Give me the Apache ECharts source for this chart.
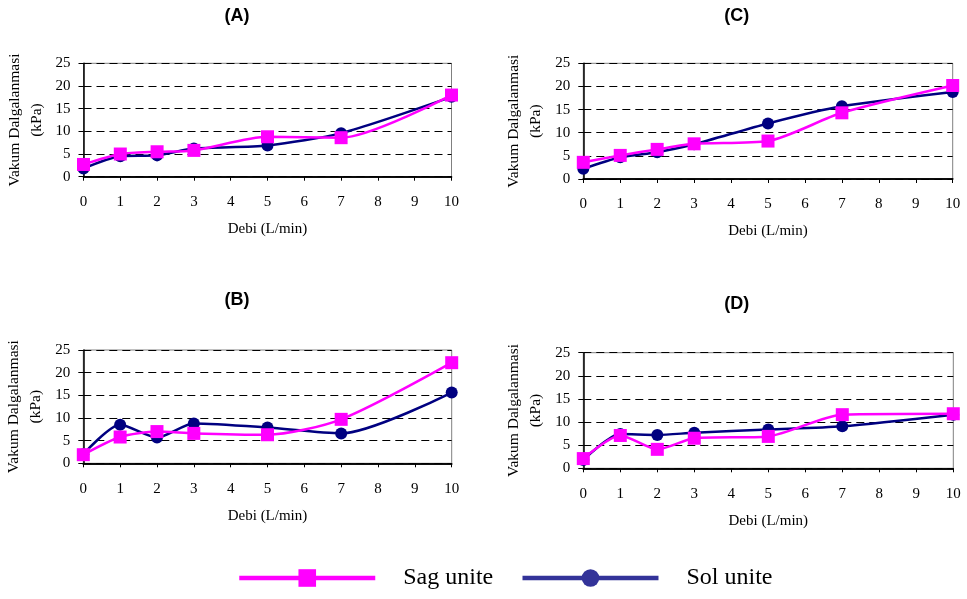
<!DOCTYPE html>
<html>
<head>
<meta charset="utf-8">
<script src="https://cdn.jsdelivr.net/npm/echarts@6/dist/echarts.min.js"></script>
<style>html,body{margin:0;padding:0;background:#fff;}#c{width:967px;height:599px;}</style>
</head>
<body>
<div id="c"></div>
<script>
// Data
const panelTitles = ['(A)', '(B)', '(C)', '(D)'];
const debi = [0, 1, 2, 3, 5, 7, 10];
const sagA = [2.7, 5.0, 5.5, 5.8, 8.8, 8.6, 18.0];
const solA = [1.8, 4.5, 4.7, 6.2, 6.9, 9.6, 17.6];
const sagB = [1.9, 5.8, 7.0, 6.6, 6.3, 9.7, 22.2];
const solB = [2.0, 8.5, 5.7, 8.8, 7.9, 6.6, 15.6];
const sagC = [3.6, 5.1, 6.4, 7.6, 8.2, 14.3, 20.2];
const solC = [2.2, 4.7, 5.8, 7.5, 12.0, 15.7, 18.8];
const sagD = [2.1, 7.1, 4.1, 6.5, 6.9, 11.6, 11.8];
const solD = [1.8, 7.4, 7.2, 7.7, 8.4, 9.1, 11.6];
const xTicks = [0, 10, 1];     // min, max, interval
const yTicks = [0, 25, 5];
const sagName = 'Sag unite';
const solName = 'Sol unite';
const xTitle = 'Debi (L/min)';
const yTitle = 'Vakum Dalgalanmasi\n(kPa)';

const pairs = (xs, ys) => xs.map((x, i) => [x, ys[i]]);
const panels = [
  {title: panelTitles[0], sag: sagA, sol: solA, grid: {left: 83.5, top: 63.3, width: 368, height: 113.4}, tx: 232, ty: 2},
  {title: panelTitles[1], sag: sagB, sol: solB, grid: {left: 83.3, top: 350, width: 368.4, height: 113.3}, tx: 232, ty: 286},
  {title: panelTitles[2], sag: sagC, sol: solC, grid: {left: 583.3, top: 63.3, width: 369.4, height: 115.7}, tx: 731.7, ty: 2},
  {title: panelTitles[3], sag: sagD, sol: solD, grid: {left: 583.3, top: 352.7, width: 370, height: 115.6}, tx: 731.7, ty: 290}
];
const serif = 'Liberation Serif';
const navy = '#000080', pink = '#FF00FF';

const option = {
  animation: false,
  backgroundColor: '#fff',
  title: panels.map(p => ({
    text: p.title, left: p.tx, top: p.ty, textAlign: 'center',
    textStyle: {fontFamily: 'Liberation Sans', fontWeight: 'bold', fontSize: 18, color: '#000'}
  })),
  grid: panels.map(p => Object.assign({show: true, borderColor: '#808080', borderWidth: 1, backgroundColor: 'transparent'}, p.grid)),
  xAxis: [],
  yAxis: [],
  series: [],
  legend: {
    left: 232, top: 561, itemWidth: 136, itemHeight: 22, itemGap: 27,
    textStyle: {fontFamily: serif, fontSize: 24, color: '#000', padding: [3, 0, 0, 23]},
    data: [
      {name: sagName, itemStyle: {color: pink}, lineStyle: {color: pink, width: 4.5}},
      {name: solName, itemStyle: {color: '#333399'}, lineStyle: {color: '#333399', width: 4.5}}
    ],
    selectedMode: false
  }
};

panels.forEach((p, i) => {
  option.xAxis.push({
    type: 'value', gridIndex: i, min: xTicks[0], max: xTicks[1], interval: xTicks[2],
    name: xTitle, nameLocation: 'middle', nameGap: 45,
    nameTextStyle: {fontFamily: serif, fontSize: 15, color: '#000'},
    axisLine: {show: true, onZero: false, lineStyle: {color: '#000', width: 1.5}},
    axisTick: {show: true, length: 4, lineStyle: {color: '#000'}},
    axisLabel: {fontFamily: serif, fontSize: 15, color: '#000', margin: 18},
    splitLine: {show: false}
  });
  option.xAxis.push({
    type: 'value', gridIndex: i, position: 'top', min: xTicks[0], max: xTicks[1],
    axisLine: {show: true, lineStyle: {color: '#000', width: 1.5}},
    axisTick: {show: false}, axisLabel: {show: false}, splitLine: {show: false}
  });
  option.yAxis.push({
    type: 'value', gridIndex: i, min: yTicks[0], max: yTicks[1], interval: yTicks[2],
    name: yTitle, nameLocation: 'middle', nameGap: 36, nameRotate: 90,
    nameTextStyle: {fontFamily: serif, fontSize: 15.5, color: '#000', lineHeight: 22},
    axisLine: {show: true, lineStyle: {color: '#000', width: 1.5}},
    axisTick: {show: true, length: 5, lineStyle: {color: '#000'}},
    axisLabel: {fontFamily: serif, fontSize: 15, color: '#000', margin: 13},
    splitLine: {show: true, lineStyle: {color: '#000', type: [8, 5], width: 1}}
  });
  option.series.push({
    name: solName, type: 'line', xAxisIndex: 2 * i, yAxisIndex: i,
    data: pairs(debi, p.sol), smooth: 0.25,
    symbol: 'circle', symbolSize: 12,
    lineStyle: {color: navy, width: 2.5}, itemStyle: {color: navy}, z: 3
  });
  option.series.push({
    name: sagName, type: 'line', xAxisIndex: 2 * i, yAxisIndex: i,
    data: pairs(debi, p.sag), smooth: 0.25,
    symbol: 'rect', symbolSize: 13,
    lineStyle: {color: pink, width: 2.5}, itemStyle: {color: pink}, z: 4
  });
});

const chart = echarts.init(document.getElementById('c'), null, {renderer: 'canvas'});
chart.setOption(option);
</script>
</body>
</html>
